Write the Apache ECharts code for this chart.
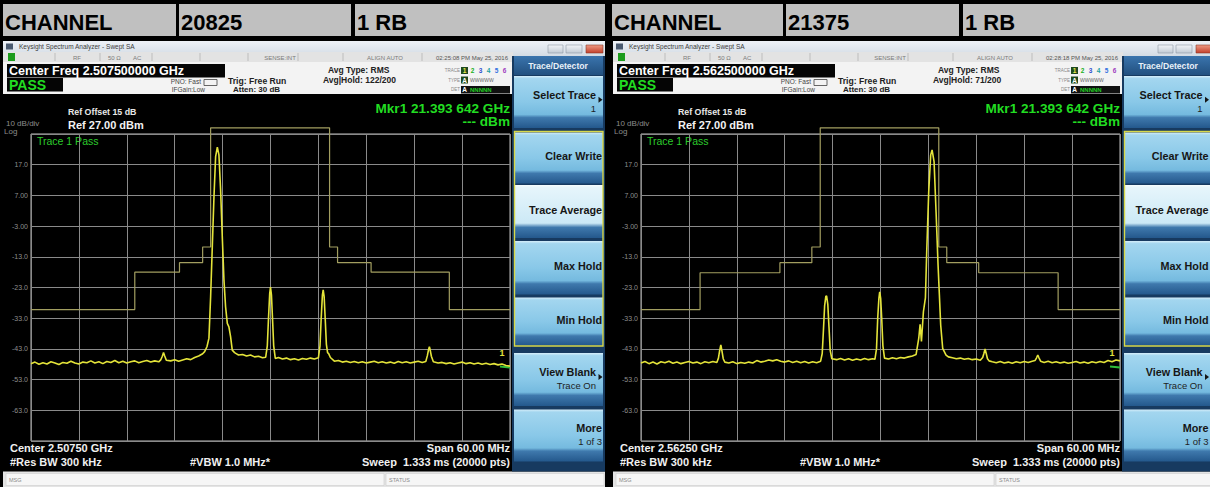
<!DOCTYPE html>
<html><head><meta charset="utf-8">
<script src="https://cdn.jsdelivr.net/npm/echarts@6/dist/echarts.min.js"></script>
<style>html,body{margin:0;padding:0;background:#000;}#c{width:1210px;height:487px;}</style>
</head><body><div id="c"></div>
<script>
// ---------------- DATA ----------------
const REF_LEVEL = 27;            // dBm, top of screen
const X_MIN = -30, X_MAX = 30, X_DIV = 6;   // MHz offset from centre (span 60 MHz)
const yTickValues = [17, 7, -3, -13, -23, -33, -43, -53, -63];
const yTickLabels = ['17.0', '7.00', '-3.00', '-13.0', '-23.0', '-33.0', '-43.0', '-53.0', '-63.0'];

const headerLeft = ['CHANNEL', '20825', '1 RB'];
const headerRight = ['CHANNEL', '21375', '1 RB'];

const softKeys = ['Select Trace', 'Clear Write', 'Trace Average', 'Max Hold', 'Min Hold', 'View Blank', 'More'];
const softKeySub = ['1', '', '', '', '', 'Trace On', '1 of 3'];

const infoLeft = { centerFreq: 'Center Freq 2.507500000 GHz', time: '02:25:08 PM May 25, 2016', avgHold: 'Avg|Hold: 122/200', center: 'Center 2.50750 GHz' };
const infoRight = { centerFreq: 'Center Freq 2.562500000 GHz', time: '02:28:18 PM May 25, 2016', avgHold: 'Avg|Hold: 71/200', center: 'Center 2.56250 GHz' };

// trace, channel 20825: [MHz offset, dBm]
const traceLeft = [
[-30,-47.8],[-29.5,-47.3],[-29,-48.0],[-28.5,-47.5],[-28,-47.9],[-27.5,-47.2],[-27,-47.6],[-26.5,-48.1],[-26,-47.4],[-25.5,-47.7],
[-25,-47.0],[-24.5,-47.6],[-24,-47.9],[-23.5,-47.3],[-23,-47.5],[-22.5,-46.9],[-22,-47.6],[-21.5,-47.2],[-21,-47.8],[-20.5,-47.1],
[-20,-47.4],[-19.5,-46.8],[-19,-47.5],[-18.5,-47.0],[-18,-47.6],[-17.5,-47.2],[-17,-46.9],[-16.5,-47.5],[-16,-47.1],[-15.5,-46.8],
[-15,-47.3],[-14.5,-46.9],[-14,-47.2],[-13.75,-46.6],[-13.55,-45.4],[-13.4,-44.2],[-13.25,-45.3],[-13.05,-46.7],
[-12.5,-46.9],[-12,-46.5],[-11.5,-47.0],[-11,-46.6],[-10.5,-46.2],[-10,-46.5],[-9.5,-45.8],[-9,-45.3],[-8.5,-44.6],
[-8.25,-43.9],[-7.96,-42.3],[-7.71,-39.5],[-7.5,-26],[-7.29,-9.7],[-7.08,6.6],[-6.875,19.6],[-6.66,22.7],[-6.46,20.2],
[-6.25,8.8],[-6.04,-6.5],[-5.83,-20.6],[-5.625,-29.3],[-5.41,-34.7],[-5.21,-35.8],[-5.0,-39],[-4.79,-43.4],[-4.5,-44.2],
[-4.25,-44.6],[-4.0,-45.0],[-3.5,-44.8],[-3,-45.3],[-2.5,-45.0],[-2,-45.6],[-1.5,-45.4],[-1,-45.9],[-0.6,-45.7],
[-0.4,-42],[-0.25,-33],[-0.1,-25],[0,-22.9],[0.12,-25.5],[0.25,-33],[0.4,-42],[0.6,-46.1],
[1,-45.8],[1.5,-46.3],[2,-46.0],[2.5,-46.5],[3,-46.2],[3.5,-46.6],[4,-46.1],[4.5,-46.4],[5,-46.0],[5.5,-46.3],[6,-45.9],
[6.2,-42],[6.35,-33],[6.5,-25.5],[6.6,-23.8],[6.72,-26],[6.85,-33],[7.0,-41.5],[7.15,-44.2],[7.3,-44.6],[7.5,-45.8],
[8,-47.0],[8.5,-46.8],[9,-47.3],[9.5,-47.0],[10,-47.4],[10.5,-47.1],[11,-47.5],[11.5,-47.2],[12,-47.6],[12.5,-47.3],
[13,-47.0],[13.5,-47.5],[14,-47.2],[14.5,-47.6],[15,-47.3],[15.5,-47.7],[16,-47.1],[16.5,-47.5],[17,-47.2],[17.5,-47.6],
[18,-47.3],[18.5,-47.0],[19,-47.4],[19.45,-47.1],[19.65,-45.2],[19.8,-43.2],[19.9,-42.3],[20.0,-43.3],[20.15,-45.4],[20.4,-47.2],
[21,-47.6],[21.5,-47.4],[22,-47.8],[22.5,-47.5],[23,-47.9],[23.5,-47.6],[24,-47.3],[24.5,-47.8],[25,-47.5],[25.5,-47.9],
[26,-47.6],[26.5,-48.0],[27,-47.7],[27.5,-48.1],[28,-47.8],[28.5,-48.2],[29,-47.9],[29.5,-48.4],[30,-48.6]
];
// limit mask, channel 20825
const maskLeft = [
[-30,-30.2],[-17,-30.2],[-17,-18],[-11.4,-18],[-11.4,-14.9],[-8.5,-14.9],[-8.5,-9.8],[-7.5,-9.8],[-7.5,29],
[7.4,29],[7.4,-9.8],[8.4,-9.8],[8.4,-14.9],[12.6,-14.9],[12.6,-18],[22.4,-18],[22.4,-30.2],[30,-30.2]
];

// trace, channel 21375
const traceRight = [
[-30,-47.6],[-29.5,-47.1],[-29,-47.8],[-28.5,-47.3],[-28,-47.9],[-27.5,-47.2],[-27,-47.5],[-26.5,-47.0],[-26,-47.7],[-25.5,-47.3],
[-25,-47.8],[-24.5,-47.4],[-24,-47.1],[-23.5,-47.6],[-23,-47.3],[-22.5,-47.8],[-22,-47.2],[-21.5,-47.5],[-21,-47.1],[-20.5,-47.4],
[-20.3,-46.0],[-20.15,-43.6],[-20.0,-41.7],[-19.85,-43.8],[-19.7,-46.2],[-19.5,-47.3],
[-19,-47.6],[-18.5,-47.2],[-18,-47.8],[-17.5,-47.4],[-17,-47.7],[-16.5,-47.3],[-16,-47.6],[-15.5,-46.8],[-15,-47.3],[-14.5,-47.0],
[-14,-46.6],[-13.5,-46.9],[-13,-46.5],[-12.5,-47.0],[-12,-47.3],[-11.5,-46.9],[-11,-47.4],[-10.5,-47.0],[-10,-47.5],[-9.5,-47.1],
[-9,-47.6],[-8.5,-47.2],[-8,-47.5],[-7.5,-47.0],
[-7.3,-44.5],[-7.15,-37],[-7.0,-29],[-6.85,-25.9],[-6.75,-25.7],[-6.6,-28.5],[-6.45,-36],[-6.3,-43.5],[-6.1,-46.2],
[-5.5,-46.5],[-5,-46.1],[-4.5,-46.6],[-4,-46.2],[-3.5,-46.7],[-3,-46.3],[-2.5,-46.6],[-2,-46.1],[-1.5,-46.5],[-1,-46.2],[-0.7,-46.4],
[-0.5,-43],[-0.35,-33],[-0.2,-26.5],[-0.1,-24.4],[0.02,-26.5],[0.15,-33],[0.3,-42],[0.5,-46.0],
[1,-46.3],[1.5,-45.9],[2,-46.2],[2.5,-45.8],[3,-46.0],[3.5,-45.6],[4,-45.3],[4.3,-45.0],
[4.46,-44.8],[4.79,-39.6],[4.96,-35],[5.13,-40.6],[5.375,-30.9],[5.625,-26.4],[5.79,-11.3],[6.04,8.2],[6.29,20.2],[6.46,21.8],
[6.71,18],[6.96,1.7],[7.21,-15.7],[7.375,-25.4],[7.54,-35.2],[7.79,-42.8],[8.21,-45],
[8.5,-45.6],[9,-45.9],[9.5,-46.2],[10,-46.0],[10.5,-46.4],[11,-46.1],[11.5,-46.5],[12,-46.3],[12.5,-46.7],
[12.8,-45.8],[12.95,-44.5],[13.1,-43],[13.25,-44.6],[13.4,-46.2],[13.6,-46.9],
[14,-47.2],[14.5,-47.5],[15,-47.1],[15.5,-47.6],[16,-47.3],[16.5,-47.7],[17,-47.2],[17.5,-47.5],[18,-47.1],[18.5,-47.4],
[19,-47.0],[19.35,-46.8],[19.55,-45.9],[19.7,-45],[19.85,-45.9],[20.05,-47.0],
[20.5,-47.4],[21,-47.0],[21.5,-47.5],[22,-47.2],[22.5,-47.6],[23,-47.3],[23.5,-47.7],[24,-47.4],[24.5,-47.1],[25,-47.6],
[25.5,-47.3],[26,-47.7],[26.5,-47.2],[27,-47.5],[27.5,-47.1],[28,-47.4],[28.5,-46.8],[29,-47.2],[29.5,-46.6],[30,-46.9]
];
// limit mask, channel 21375
const maskRight = [
[-30,-30.2],[-22.6,-30.2],[-22.6,-18.2],[-12.6,-18.2],[-12.6,-14.9],[-8.6,-14.9],[-8.6,-9.8],[-7.55,-9.8],[-7.55,29],
[7.3,29],[7.3,-9.8],[8.3,-9.8],[8.3,-14.9],[12.3,-14.9],[12.3,-18.2],[22.25,-18.2],[22.25,-30.2],[30,-30.2]
];

// ---------------- HELPERS ----------------
const FF = '"Liberation Sans", Arial, sans-serif';
const PAGE_W = 1210;
function R(x, y, w, h, fill, extra) {
  return { type: 'rect', silent: true, shape: { x: x, y: y, width: w, height: h }, style: Object.assign({ fill: fill }, extra || {}) };
}
function T(x, y, text, size, color, weight, align) {
  align = align || 'left';
  return { type: 'text', silent: true, x: x, y: y, style: {
    text: text, font: (weight || 'normal') + ' ' + size + 'px ' + FF, fill: color,
    align: align, textAlign: align, verticalAlign: 'middle', textVerticalAlign: 'middle' } };
}
function L(x1, y1, x2, y2, color, w) {
  return { type: 'line', silent: true, shape: { x1: x1, y1: y1, x2: x2, y2: y2 }, style: { stroke: color, lineWidth: w || 1 } };
}
function G(stops) {
  return new echarts.graphic.LinearGradient(0, 0, 0, 1, stops.map(function (s) { return { offset: s[0], color: s[1] }; }));
}

function header(cells, xs, ws) {
  const E = [];
  for (let i = 0; i < 3; i++) {
    E.push(R(xs[i], 4, ws[i], 32, '#c0c0c0'));
    E.push(T(xs[i] + 2, 22, cells[i], 22, '#000', 'bold'));
  }
  return E;
}

function panel(ox, info) {
  const E = [];
  // window title bar
  E.push(R(ox + 3, 41, 602, 15, G([[0, '#eef2f7'], [1, '#d3dbe4']])));
  E.push(R(ox + 6, 43.5, 7, 6, '#4a5a70'));
  E.push(T(ox + 19, 46.8, 'Keysight Spectrum Analyzer - Swept SA', 6.5, '#3b3b3b'));
  E.push(R(ox + 548, 45, 15, 8, G([[0, '#f3f5f8'], [1, '#c1cad4']]), { stroke: '#8d98a6', lineWidth: 0.6 }));
  E.push(R(ox + 566, 45, 16, 8, G([[0, '#f3f5f8'], [1, '#c1cad4']]), { stroke: '#8d98a6', lineWidth: 0.6 }));
  E.push(R(ox + 586, 45, 17, 8, G([[0, '#ee9a84'], [1, '#c3402b']]), { stroke: '#8a3a2a', lineWidth: 0.6 }));
  // status row
  E.push(R(ox + 3, 52, 510, 10, '#e3e3e3'));
  [55, 100, 152, 200, 248, 298, 343, 422].forEach(function (s) { E.push(L(ox + s, 53, ox + s, 61, '#b4b4b4', 0.8)); });
  E.push(R(ox + 8, 53, 7, 8, '#1c9c1c'));
  E.push(T(ox + 73, 57.5, 'RF', 6, '#7a7a7a'));
  E.push(T(ox + 108, 57.5, '50 \u03A9', 6, '#7a7a7a'));
  E.push(T(ox + 133, 57.5, 'AC', 6, '#7a7a7a'));
  E.push(T(ox + 280, 57.5, 'SENSE:INT', 6, '#7a7a7a', 'normal', 'center'));
  E.push(T(ox + 385, 57.5, 'ALIGN AUTO', 6, '#7a7a7a', 'normal', 'center'));
  E.push(T(ox + 508, 57.5, info.time, 6, '#555', 'normal', 'right'));
  // info panel
  E.push(R(ox + 3, 62, 510, 32, '#f3f3f3'));
  E.push(R(ox + 7, 64, 218, 13.5, '#050505'));
  E.push(T(ox + 9, 71, info.centerFreq, 12.5, '#ffffff', 'bold'));
  E.push(R(ox + 7, 78, 56, 13.5, '#050505'));
  E.push(T(ox + 9, 85, 'PASS', 14, '#22dd22', 'bold'));
  E.push(T(ox + 201, 81.3, 'PNO: Fast', 6.5, '#444', 'normal', 'right'));
  E.push(T(ox + 205, 89.2, 'IFGain:Low', 6.5, '#444', 'normal', 'right'));
  E.push(R(ox + 204, 79.5, 13, 6, 'none', { stroke: '#555', lineWidth: 0.9 }));
  E.push(T(ox + 228, 81.3, 'Trig: Free Run', 8.6, '#222', 'bold'));
  E.push(T(ox + 233, 89.8, 'Atten: 30 dB', 8, '#222', 'bold'));
  E.push(T(ox + 328, 70.3, 'Avg Type: RMS', 8.5, '#222', 'bold'));
  E.push(T(ox + 323, 80.3, info.avgHold, 8.5, '#222', 'bold'));
  E.push(T(ox + 460, 70.7, 'TRACE', 4.5, '#888', 'normal', 'right'));
  E.push(T(ox + 460, 80.3, 'TYPE', 4.5, '#888', 'normal', 'right'));
  E.push(T(ox + 460, 89.5, 'DET', 4.5, '#888', 'normal', 'right'));
  E.push(R(ox + 461, 67, 7, 7, '#1f4a1f'));
  const tc = ['#e8e84a', '#20b020', '#3050d0', '#20a0a0', '#3070e0', '#a040c0'];
  for (let i = 0; i < 6; i++) E.push(T(ox + 464.5 + i * 8, 70.7, String(i + 1), 6.5, tc[i], 'bold', 'center'));
  E.push(R(ox + 461, 76.5, 7, 7, '#1f4a1f'));
  E.push(T(ox + 464.5, 80.3, 'A', 6.5, '#ffffff', 'bold', 'center'));
  E.push(T(ox + 470, 80.3, 'WWWWW', 5, '#666', 'normal'));
  E.push(R(ox + 461, 86, 49, 7.5, '#101010'));
  E.push(T(ox + 464.5, 89.7, 'A', 6.5, '#ffffff', 'bold', 'center'));
  E.push(T(ox + 470, 89.7, 'NNNNN', 6, '#22cc22', 'bold'));
  // black display texts
  E.push(T(ox + 68, 112, 'Ref Offset 15 dB', 8.8, '#e8e8e8', 'bold'));
  E.push(T(ox + 68, 125.3, 'Ref 27.00 dBm', 11, '#f2f2f2', 'bold'));
  E.push(T(ox + 6, 123.8, '10 dB/div', 8, '#8c8c8c'));
  E.push(T(ox + 4, 131.8, 'Log', 8, '#8c8c8c'));
  E.push(T(ox + 510, 108, 'Mkr1 21.393 642 GHz', 13.6, '#22dd22', 'bold', 'right'));
  E.push(T(ox + 510, 121.8, '--- dBm', 13.6, '#22dd22', 'bold', 'right'));
  E.push(T(ox + 37, 140.7, 'Trace 1 Pass', 10.5, '#2ccc2c'));
  E.push(T(ox + 502, 353, '1', 9, '#e2e23c', 'bold', 'center'));
  E.push(L(ox + 500, 366.5, ox + 510, 367.5, '#2fbf3a', 2));
  E.push(T(ox + 10, 448.3, info.center, 11, '#f0f0f0', 'bold'));
  E.push(T(ox + 10, 462.3, '#Res BW 300 kHz', 11, '#f0f0f0', 'bold'));
  E.push(T(ox + 190, 462.3, '#VBW 1.0 MHz*', 11, '#f0f0f0', 'bold'));
  E.push(T(ox + 510, 448.3, 'Span 60.00 MHz', 11, '#f0f0f0', 'bold', 'right'));
  E.push(T(ox + 510, 462.3, 'Sweep  1.333 ms (20000 pts)', 11, '#f0f0f0', 'bold', 'right'));
  // status bar
  E.push(R(ox + 3, 471.5, 602, 15.5, '#e4e4e4'));
  E.push(R(ox + 6, 473.5, 378, 12, '#f6f6f6', { stroke: '#cdcdcd', lineWidth: 0.6 }));
  E.push(R(ox + 386, 473.5, 218, 12, '#f6f6f6', { stroke: '#cdcdcd', lineWidth: 0.6 }));
  E.push(T(ox + 9, 479.5, 'MSG', 5.5, '#8a8a8a'));
  E.push(T(ox + 389, 479.5, 'STATUS', 5.5, '#8a8a8a'));
  // soft key panel
  E.push(R(ox + 512, 56, 93, 415.5, '#173a60'));
  E.push(R(ox + 514, 56, 89, 19, G([[0, '#3a74ad'], [1, '#22507f']])));
  E.push(T(ox + 558, 66.3, 'Trace/Detector', 8.6, '#e8f0f8', 'bold', 'center'));
  const keys = [[76, 52], [132.5, 51], [185, 53], [241, 53.5], [297.5, 48], [353, 53], [409.5, 52]];
  const norm = [[0, '#d6eefa'], [0.05, '#a3d6ef'], [0.5, '#89c8e8'], [0.74, '#75badf'], [0.8, '#3f79ad'], [1, '#24588c']];
  const sel = [[0, '#f6fcfe'], [0.05, '#e6f5fb'], [0.72, '#cce9f6'], [0.8, '#3f79ad'], [1, '#24588c']];
  const keyRight = Math.min(ox + 602, PAGE_W - 1.5);
  for (let i = 0; i < keys.length; i++) {
    const y = keys[i][0], h = keys[i][1];
    E.push(R(ox + 514, y, 89, h, G(i === 2 ? sel : norm)));
    const hasSub = softKeySub[i] !== '';
    const arrow = (i === 0 || i === 5);
    const tx = arrow ? keyRight - 6 : keyRight;
    const ty = hasSub ? y + h * 0.36 : y + h * 0.47;
    E.push(T(tx, ty, softKeys[i], 10.8, '#161616', 'bold', 'right'));
    if (hasSub) E.push(T(tx, y + h * 0.62, softKeySub[i], 9.5, '#1e1e1e', 'normal', 'right'));
    if (arrow) E.push({ type: 'polygon', silent: true, shape: { points: [[keyRight - 3.5, ty + 2], [keyRight + 0.5, ty + 5], [keyRight - 3.5, ty + 8]] }, style: { fill: '#151515' } });
  }
  E.push(R(ox + 514.5, 131.5, 88.5, 214.5, 'none', { stroke: '#d8d84a', lineWidth: 1.4 }));
  return E;
}

// ---------------- CHART ----------------
const toPlot = function (arr) { return arr.map(function (p) { return [p[0], p[1] - REF_LEVEL]; }); };
const yLabel = function (v) {
  const i = yTickValues.indexOf(Math.round(v + REF_LEVEL));
  return i >= 0 ? yTickLabels[i] : '';
};
function xAx(gi) {
  return { gridIndex: gi, type: 'value', min: X_MIN, max: X_MAX, interval: X_DIV,
    axisLabel: { show: false }, axisTick: { show: false }, axisLine: { show: false },
    splitLine: { show: true, lineStyle: { color: '#8a8a8a', width: 1 } } };
}
function yAx(gi) {
  return { gridIndex: gi, type: 'value', min: -100, max: 0, interval: 10,
    axisLabel: { formatter: yLabel, color: '#8e8e8e', fontSize: 7, margin: 3, fontFamily: FF },
    axisTick: { show: false }, axisLine: { show: false },
    splitLine: { show: true, lineStyle: { color: '#8a8a8a', width: 1 } } };
}
function traceSeries(data, gi) {
  return { type: 'line', xAxisIndex: gi, yAxisIndex: gi, data: toPlot(data), showSymbol: false, symbol: 'none',
    lineStyle: { color: '#e4e43a', width: 1.6 }, z: 5, silent: true };
}
function maskSeries(data, gi) {
  return { type: 'line', xAxisIndex: gi, yAxisIndex: gi, data: toPlot(data), showSymbol: false, symbol: 'none', clip: false,
    lineStyle: { color: '#a29e60', width: 1.2 }, z: 4, silent: true };
}

let elements = [];
elements = elements.concat(header(headerLeft, [3, 179, 355], [173, 172, 250]));
elements = elements.concat(header(headerRight, [612, 786, 963], [171, 173, 247]));
elements = elements.concat(panel(0, infoLeft));
elements = elements.concat(panel(610, infoRight));

const chart = echarts.init(document.getElementById('c'), null, { renderer: 'svg', width: 1210, height: 487 });
chart.setOption({
  animation: false,
  backgroundColor: '#000',
  grid: [
    { left: 31, top: 134, width: 479, height: 307, show: true, borderColor: '#bdbdbd', borderWidth: 1, backgroundColor: 'transparent' },
    { left: 641, top: 134, width: 479, height: 307, show: true, borderColor: '#bdbdbd', borderWidth: 1, backgroundColor: 'transparent' }
  ],
  xAxis: [xAx(0), xAx(1)],
  yAxis: [yAx(0), yAx(1)],
  series: [maskSeries(maskLeft, 0), traceSeries(traceLeft, 0), maskSeries(maskRight, 1), traceSeries(traceRight, 1)],
  graphic: { elements: elements }
});
</script></body></html>
